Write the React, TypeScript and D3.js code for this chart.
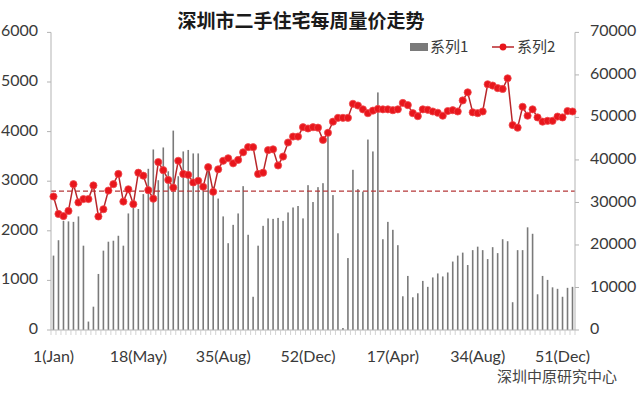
import React from "react";
import * as d3 from "d3";

// ---- data ----
const weeks: string[] = [
  ...d3.range(1, 53).map((w) => `Y1-W${w}`),
  ...d3.range(1, 54).map((w) => `Y2-W${w}`),
];

const series1: number[] = [
  1500, 1810, 2200, 2190, 2180, 2290, 1700, 170, 470, 1130,
  1600, 1780, 1800, 1900, 1700, 2350, 2470, 2440, 2740, 3250,
  3640, 3020, 3680, 3200, 4020, 3100, 3600, 3630, 3560, 3560,
  2920, 3330, 2890, 2650, 2290, 1750, 2120, 2350, 2900, 1920,
  670, 1700, 2100, 2250, 2240, 2260, 2200, 2370, 2470, 2500,
  2250, 2920, 2580, 2880, 2960, 4050, 2720, 1950, 40, 1450,
  3230, 2840, 2790, 3840, 3600, 4790, 1830, 2180, 2020, 1710,
  680, 1090, 660, 740, 990, 870, 1060, 1140, 1080, 1160,
  1380, 1500, 1560, 1310, 1610, 1680, 1610, 1430, 1670, 1550,
  1830, 1790, 560, 1610, 1610, 2070, 1940, 720, 1090, 1010,
  860, 830, 670, 850, 870,
];

const series2: number[] = [
  31400, 27300, 26800, 28000, 34300, 30000, 30800, 30800, 34000, 26700,
  28400, 32800, 34300, 36700, 30200, 33100, 29600, 37000, 36300, 32900,
  30900, 39500, 37600, 35300, 33500, 39800, 36700, 36500, 34700, 35100,
  33700, 38300, 32500, 37800, 39800, 40400, 39200, 40000, 41800, 43000,
  43000, 36700, 37000, 42300, 42500, 38700, 40800, 44100, 45500, 45500,
  47700, 47400, 47700, 47600, 44700, 46400, 49000, 49900, 49900, 49900,
  53200, 52800, 51900, 51000, 51600, 52000, 51900, 51900, 51700, 51900,
  53400, 52900, 51000, 50300, 51900, 51800, 51400, 51100, 50400, 51500,
  51700, 51400, 54000, 55900, 51200, 51000, 51400, 57800, 57500, 56900,
  56700, 59200, 48200, 47600, 52500, 50400, 51900, 50000, 49000, 49200,
  49200, 50200, 50000, 51500, 51400,
];

const avgLine = 2800;

const leftTicks: number[] = [0, 1000, 2000, 3000, 4000, 5000, 6000];
const rightTicks: number[] = [0, 10000, 20000, 30000, 40000, 50000, 60000, 70000];
const xTickIndex: number[] = [0, 17, 34, 51, 68, 85, 102];
const xTickLabels: string[] = ["1(Jan)", "18(May)", "35(Aug)", "52(Dec)", "17(Apr)", "34(Aug)", "51(Dec)"];

const title = "深圳市二手住宅每周量价走势";
const legendNames: string[] = ["系列1", "系列2"];
const source = "深圳中原研究中心";

// ---- layout ----
const W = 640;
const H = 394;
const plot = { left: 51, right: 575, top: 32.4, bottom: 330 };

const latin = "Lato, 'Open Sans', sans-serif";
const cjk = "'Noto Sans CJK SC', 'Noto Sans', sans-serif";

export default function App() {
  const x = d3
    .scaleBand<number>()
    .domain(d3.range(weeks.length))
    .range([plot.left, plot.right])
    .padding(0);
  const yL = d3.scaleLinear().domain([0, 6000]).range([plot.bottom, plot.top]);
  const yR = d3.scaleLinear().domain([0, 70000]).range([plot.bottom, plot.top]);
  const bw = x.bandwidth();
  const cx = (i: number) => (x(i) as number) + bw / 2;

  const line = d3
    .line<number>()
    .x((_, i) => cx(i))
    .y((d) => yR(d));

  const axisColor = "#b3b3b3";
  const textColor = "#3a3a3a";

  return (
    <svg
      width={W}
      height={H}
      style={{ position: "absolute", left: 0, top: 0, background: "#fff" }}
    >
      <rect x={0} y={0} width={W} height={H} fill="#fff" />
      {/* title */}
      <text
        x={301}
        y={23}
        textAnchor="middle"
        dominantBaseline="middle"
        fontFamily={cjk}
        fontWeight={700}
        fontSize={19}
        fill="#1a1a1a"
      >
        {title}
      </text>

      {/* bars */}
      {series1.map((v, i) => (
        <rect
          key={"b" + i}
          x={cx(i) - 0.8}
          y={yL(v)}
          width={1.6}
          height={plot.bottom - yL(v)}
          fill="#7a7a7a"
        />
      ))}

      {/* average dashed line */}
      <line
        x1={plot.left}
        x2={plot.right}
        y1={yL(avgLine)}
        y2={yL(avgLine)}
        stroke="#b5383a"
        strokeWidth={1.3}
        strokeDasharray="5,3"
      />

      {/* axes */}
      <line x1={plot.left} x2={plot.left} y1={plot.top} y2={plot.bottom} stroke={axisColor} />
      <line x1={plot.right} x2={plot.right} y1={plot.top} y2={plot.bottom} stroke={axisColor} />
      <line x1={plot.left} x2={plot.right} y1={plot.bottom} y2={plot.bottom} stroke={axisColor} />
      {weeks.map((_, i) => (
        <line
          key={"xt" + i}
          x1={(x(i) as number)}
          x2={(x(i) as number)}
          y1={plot.bottom}
          y2={plot.bottom + 5}
          stroke="#c8c8c8"
          strokeWidth={0.8}
        />
      ))}
      <line x1={plot.right} x2={plot.right} y1={plot.bottom} y2={plot.bottom + 5} stroke="#c8c8c8" strokeWidth={0.8} />

      {leftTicks.map((t) => (
        <g key={"lt" + t}>
          <line x1={plot.left - 4} x2={plot.left} y1={yL(t)} y2={yL(t)} stroke={axisColor} />
          <text
            x={38}
            y={yL(t)}
            textAnchor="end"
            dominantBaseline="middle"
            fontFamily={latin}
            fontSize={16}
            fill={textColor}
          >
            {t}
          </text>
        </g>
      ))}
      {rightTicks.map((t) => (
        <g key={"rt" + t}>
          <line x1={plot.right} x2={plot.right + 4} y1={yR(t)} y2={yR(t)} stroke={axisColor} />
          <text
            x={590}
            y={yR(t)}
            textAnchor="start"
            dominantBaseline="middle"
            fontFamily={latin}
            fontSize={16}
            fill={textColor}
          >
            {t}
          </text>
        </g>
      ))}
      {xTickIndex.map((idx, k) => (
        <text
          key={"xl" + k}
          x={cx(idx)}
          y={358}
          textAnchor="middle"
          dominantBaseline="middle"
          fontFamily={latin}
          fontSize={16}
          fill={textColor}
        >
          {xTickLabels[k]}
        </text>
      ))}

      {/* price line */}
      <path d={line(series2) || ""} fill="none" stroke="#b8262a" strokeWidth={1.5} />
      {series2.map((v, i) => (
        <circle key={"p" + i} cx={cx(i)} cy={yR(v)} r={3.6} fill="#e8161c" stroke="#f04a4e" strokeWidth={0.8} />
      ))}

      {/* legend */}
      <rect x={410} y={43} width={18} height={8} fill="#7a7a7a" />
      <text x={430} y={48} dominantBaseline="middle" fontFamily={cjk} fontSize={15} fill={textColor}>
        {legendNames[0]}
      </text>
      <line x1={492} x2={514} y1={47} y2={47} stroke="#b8262a" strokeWidth={1.5} />
      <circle cx={503} cy={47} r={3.4} fill="#e8161c" />
      <text x={517} y={48} dominantBaseline="middle" fontFamily={cjk} fontSize={15} fill={textColor}>
        {legendNames[1]}
      </text>

      {/* source */}
      <text
        x={617}
        y={378}
        textAnchor="end"
        dominantBaseline="middle"
        fontFamily={cjk}
        fontSize={15}
        fill="#444"
      >
        {source}
      </text>
    </svg>
  );
}
